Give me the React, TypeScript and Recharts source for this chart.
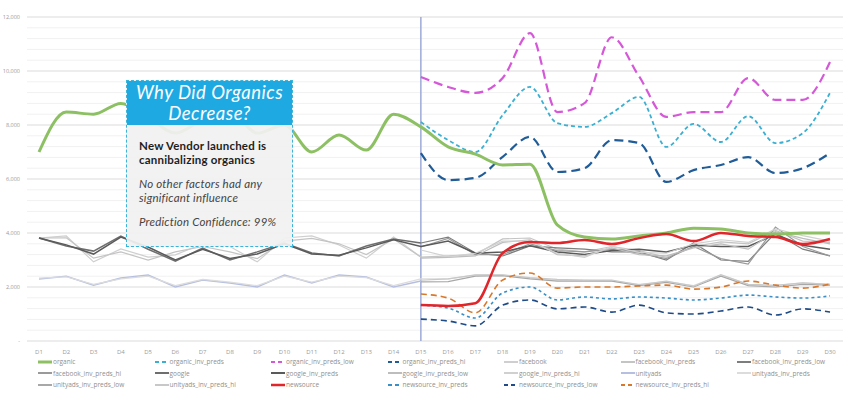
import React from 'react';
import { LineChart, Line, XAxis, YAxis, CartesianGrid, ReferenceLine } from 'recharts';

const days = [
  'D1', 'D2', 'D3', 'D4', 'D5', 'D6', 'D7', 'D8', 'D9', 'D10',
  'D11', 'D12', 'D13', 'D14', 'D15', 'D16', 'D17', 'D18', 'D19', 'D20',
  'D21', 'D22', 'D23', 'D24', 'D25', 'D26', 'D27', 'D28', 'D29', 'D30',
];

const yLabels = [0, 2000, 4000, 6000, 8000, 10000, 12000];

const _ = null;

// actuals + fits for D1..D15, predictions D15..D30
const organic = [7000, 8480, 8400, 8800, 8300, 7700, 8200, 8500, 7700, 8000, 7000, 7630, 7070, 8400, 7930, 7190, 6920, 6520, 6550, 4300, 3850, 3780, 3890, 4000, 4180, 4150, 4000, 3960, 4000, 4000];
const organicInvPreds = [_, _, _, _, _, _, _, _, _, _, _, _, _, _, 8110, 7440, 7000, 8370, 9410, 8070, 7930, 8440, 9040, 7190, 8040, 7370, 8330, 7330, 7700, 9190];
const organicInvPredsLow = [_, _, _, _, _, _, _, _, _, _, _, _, _, _, 9780, 9410, 9190, 9740, 11400, 8480, 8810, 11250, 9800, 8300, 8480, 8480, 9740, 8930, 8930, 10330];
const organicInvPredsHi = [_, _, _, _, _, _, _, _, _, _, _, _, _, _, 6960, 5960, 6040, 6820, 7560, 6260, 6400, 7440, 7330, 5890, 6330, 6520, 6810, 6220, 6400, 6960];

const facebook = [3815, 3890, 2930, 3410, 3110, 3190, 3600, 3500, 2930, 3815, 3890, 3555, 3070, 3850, 3110, _, _, _, _, _, _, _, _, _, _, _, _, _, _, _];
const facebookInvPreds = [3815, 3820, 3070, 3300, 3000, 3300, 3500, 3300, 3050, 3700, 3800, 3600, 3200, 3780, 3110, 3150, 3200, 3780, 3815, 3400, 3300, 3500, 3350, 3100, 3500, 3670, 3600, 4100, 3700, 3650];
const facebookInvPredsLow = [_, _, _, _, _, _, _, _, _, _, _, _, _, _, 3630, 3850, 3260, 3150, 3520, 3450, 3400, 3300, 3300, 3000, 3630, 3000, 2950, 4000, 3400, 3150];
const facebookInvPredsHi = [_, _, _, _, _, _, _, _, _, _, _, _, _, _, 3480, 3800, 3200, 3200, 3600, 3350, 3300, 3400, 3250, 3050, 3500, 3050, 2850, 4220, 3500, 3150];

const google = [3815, 3520, 3330, 3890, 3400, 2960, 3440, 3000, 3300, 3630, 3260, 3150, 3520, 3780, 3630, _, _, _, _, _, _, _, _, _, _, _, _, _, _, _];
const googleInvPreds = [3815, 3560, 3220, 3850, 3480, 3000, 3400, 3060, 3220, 3600, 3220, 3180, 3450, 3750, 3500, 3700, 3250, 3300, 3530, 3300, 3200, 3350, 3400, 3300, 3550, 3500, 3500, 3950, 3550, 3400];
const googleInvPredsLow = [_, _, _, _, _, _, _, _, _, _, _, _, _, _, 3070, 3100, 3150, 3650, 3750, 3200, 3150, 3450, 3200, 3150, 3450, 3600, 3400, 4050, 3800, 3600];
const googleInvPredsHi = [_, _, _, _, _, _, _, _, _, _, _, _, _, _, 3370, 3120, 3250, 3700, 3700, 3250, 3100, 3500, 3280, 3250, 3600, 3750, 3650, 4150, 3900, 3700];

const unityads = [2300, 2400, 2070, 2330, 2440, 2000, 2260, 2150, 2000, 2440, 2150, 2440, 2370, 2000, 2220, _, _, _, _, _, _, _, _, _, _, _, _, _, _, _];
const unityadsInvPreds = [2330, 2380, 2100, 2300, 2400, 2050, 2280, 2180, 2050, 2400, 2180, 2400, 2350, 2050, 2300, 2300, 2440, 2440, 2330, 2250, 2250, 2230, 2100, 2200, 2050, 2440, 2100, 2050, 2150, 2100];
const unityadsInvPredsLow = [_, _, _, _, _, _, _, _, _, _, _, _, _, _, 2190, 2200, 2400, 2420, 2300, 2220, 2220, 2220, 2050, 2170, 2000, 2400, 2050, 2000, 2100, 2070];
const unityadsInvPredsHi = [_, _, _, _, _, _, _, _, _, _, _, _, _, _, 2250, 2300, 2450, 2450, 2350, 2280, 2260, 2260, 2080, 2220, 2030, 2460, 2100, 2060, 2150, 2100];

const newsource = [_, _, _, _, _, _, _, _, _, _, _, _, _, _, 1330, 1300, 1400, 3260, 3670, 3630, 3740, 3590, 3810, 3960, 3700, 4000, 3890, 3850, 3590, 3780];
const newsourceInvPreds = [_, _, _, _, _, _, _, _, _, _, _, _, _, _, 1330, 1220, 850, 1780, 2000, 1520, 1630, 1560, 1630, 1590, 1520, 1590, 1700, 1630, 1590, 1670];
const newsourceInvPredsLow = [_, _, _, _, _, _, _, _, _, _, _, _, _, _, 810, 740, 560, 1330, 1520, 1190, 1260, 1070, 1330, 1040, 1000, 1110, 1260, 960, 1190, 1070];
const newsourceInvPredsHi = [_, _, _, _, _, _, _, _, _, _, _, _, _, _, 1740, 1590, 1040, 2260, 2520, 1960, 2000, 2000, 2040, 2070, 1920, 2000, 2220, 2070, 1960, 2110];

type Series = {
  key: string;
  values: (number | null)[];
  color: string;
  width: number;
  dash?: string;
  curve: 'monotone' | 'linear';
};

// legend order
const series: Series[] = [
  { key: 'organic', values: organic, color: '#8cc063', width: 3, curve: 'monotone' },
  { key: 'organic_inv_preds', values: organicInvPreds, color: '#3aafd2', width: 1.8, dash: '4 3', curve: 'monotone' },
  { key: 'organic_inv_preds_low', values: organicInvPredsLow, color: '#d558d8', width: 2.2, dash: '9 5', curve: 'monotone' },
  { key: 'organic_inv_preds_hi', values: organicInvPredsHi, color: '#1f5c98', width: 2.2, dash: '9 5', curve: 'monotone' },
  { key: 'facebook', values: facebook, color: '#cfcfcf', width: 1.2, curve: 'linear' },
  { key: 'facebook_inv_preds', values: facebookInvPreds, color: '#c4c4c4', width: 1.2, curve: 'linear' },
  { key: 'facebook_inv_preds_low', values: facebookInvPredsLow, color: '#7d7d7d', width: 1.2, curve: 'linear' },
  { key: 'facebook_inv_preds_hi', values: facebookInvPredsHi, color: '#9a9a9a', width: 1.2, curve: 'linear' },
  { key: 'google', values: google, color: '#6e6e6e', width: 1.5, curve: 'linear' },
  { key: 'google_inv_preds', values: googleInvPreds, color: '#5a5a5a', width: 1.5, curve: 'linear' },
  { key: 'google_inv_preds_low', values: googleInvPredsLow, color: '#bdbdbd', width: 1.2, curve: 'linear' },
  { key: 'google_inv_preds_hi', values: googleInvPredsHi, color: '#d0d0d0', width: 1.2, curve: 'linear' },
  { key: 'unityads', values: unityads, color: '#b6bfe0', width: 1.5, curve: 'linear' },
  { key: 'unityads_inv_preds', values: unityadsInvPreds, color: '#dcdcdc', width: 1.2, curve: 'linear' },
  { key: 'unityads_inv_preds_low', values: unityadsInvPredsLow, color: '#a8a8a8', width: 1.2, curve: 'linear' },
  { key: 'unityads_inv_preds_hi', values: unityadsInvPredsHi, color: '#c8c8c8', width: 1.2, curve: 'linear' },
  { key: 'newsource', values: newsource, color: '#e0262b', width: 2.5, curve: 'monotone' },
  { key: 'newsource_inv_preds', values: newsourceInvPreds, color: '#3a8fc6', width: 1.6, dash: '3 3', curve: 'monotone' },
  { key: 'newsource_inv_preds_low', values: newsourceInvPredsLow, color: '#1f4c88', width: 1.6, dash: '6 4', curve: 'monotone' },
  { key: 'newsource_inv_preds_hi', values: newsourceInvPredsHi, color: '#d9782b', width: 1.6, dash: '6 4', curve: 'monotone' },
];

// draw grays under the coloured lines
const drawOrder = [4, 5, 6, 7, 8, 9, 10, 11, 12, 13, 14, 15, 1, 2, 3, 17, 18, 19, 0, 16];

const data = days.map((day, i) => {
  const row: Record<string, string | number | null> = { day };
  series.forEach((s) => {
    row[s.key] = s.values[i];
  });
  return row;
});

// minor grid every 400
const gridTicks = Array.from({ length: 31 }, (_v, i) => i * 400);

const fmtY = (v: number) => {
  if (!yLabels.includes(v)) return '';
  if (v === 0) return '-';
  return v.toLocaleString('en-US');
};

const font = '"Open Sans", Lato, sans-serif';
const boxFont = 'Lato, "Open Sans", sans-serif';

const Legend = () => (
  <div
    style={{
      position: 'absolute',
      left: 38,
      top: 356,
      display: 'grid',
      gridTemplateColumns: 'repeat(7, 116.5px)',
      rowGap: 0,
      fontFamily: font,
      fontSize: 6.5,
      color: '#8f8f8f',
    }}
  >
    {series.map((s) => (
      <div key={s.key} style={{ display: 'flex', alignItems: 'center', height: 11.5 }}>
        <svg width={14} height={4} style={{ marginRight: 1 }}>
          <line x1={0} y1={2} x2={14} y2={2} stroke={s.color} strokeWidth={Math.max(2, s.width)} strokeDasharray={s.dash ? '4 3' : undefined} />
        </svg>
        <span>{s.key}</span>
      </div>
    ))}
  </div>
);

const lineBox = (h: number): React.CSSProperties => ({ height: h, lineHeight: `${h}px`, whiteSpace: 'nowrap' });

const Callout = () => (
  <div
    style={{
      position: 'absolute',
      left: 126,
      top: 80,
      width: 167,
      height: 167,
      border: '1px dashed #3ab4d8',
      background: 'rgba(241,241,241,0.93)',
      fontFamily: boxFont,
      boxSizing: 'border-box',
    }}
  >
    <div
      style={{
        background: '#1ea9e3',
        height: 44,
        color: '#fff',
        fontStyle: 'italic',
        fontSize: 18.5,
        letterSpacing: 0.5,
        textAlign: 'center',
        paddingTop: 1,
        boxSizing: 'border-box',
      }}
    >
      <div style={lineBox(21)}>Why Did Organics</div>
      <div style={lineBox(21)}>Decrease?</div>
    </div>
    <div style={{ padding: '14px 0 0 12px', color: '#1e1e1e', fontSize: 11.5, letterSpacing: 0.2 }}>
      <div style={{ fontWeight: 700 }}>
        <div style={lineBox(14)}>New Vendor launched is</div>
        <div style={lineBox(14)}>cannibalizing organics</div>
      </div>
      <div style={{ fontStyle: 'italic', marginTop: 10, color: '#444' }}>
        <div style={lineBox(14)}>No other factors had any</div>
        <div style={lineBox(14)}>significant influence</div>
      </div>
      <div style={{ fontStyle: 'italic', marginTop: 10, color: '#444' }}>
        <div style={lineBox(14)}>Prediction Confidence: 99%</div>
      </div>
    </div>
  </div>
);

export default function App() {
  return (
    <div style={{ position: 'relative', width: 849, height: 398, background: '#fff' }}>
      <style>{'body{margin:0}'}</style>
      <LineChart width={849} height={398} data={data} margin={{ top: 17, right: 6, bottom: 0, left: 0 }}>
        <CartesianGrid vertical={false} stroke="#f1f1f1" />
        {yLabels.map((v) => (
          <ReferenceLine key={v} y={v} stroke="#e2e2e2" strokeWidth={1} />
        ))}
        <XAxis
          dataKey="day"
          height={57}
          axisLine={false}
          tickLine={false}
          tickMargin={3}
          interval={0}
          padding={{ left: 12, right: 13 }}
          tick={{ fontSize: 6, fill: '#9a9a9a', fontFamily: font }}
        />
        <YAxis
          width={27}
          domain={[0, 12000]}
          ticks={gridTicks}
          interval={0}
          axisLine={false}
          tickLine={false}
          tickSize={0}
          tickMargin={7}
          tickFormatter={fmtY}
          tick={{ fontSize: 5.5, fill: '#9a9a9a', fontFamily: font }}
        />
        <ReferenceLine x="D15" stroke="#9eaad8" strokeWidth={1.5} />
        {drawOrder.map((idx) => {
          const s = series[idx];
          return (
            <Line
              key={s.key}
              dataKey={s.key}
              type={s.curve}
              stroke={s.color}
              strokeWidth={s.width}
              strokeDasharray={s.dash}
              dot={false}
              activeDot={false}
              isAnimationActive={false}
            />
          );
        })}
      </LineChart>
      <Callout />
      <Legend />
    </div>
  );
}
